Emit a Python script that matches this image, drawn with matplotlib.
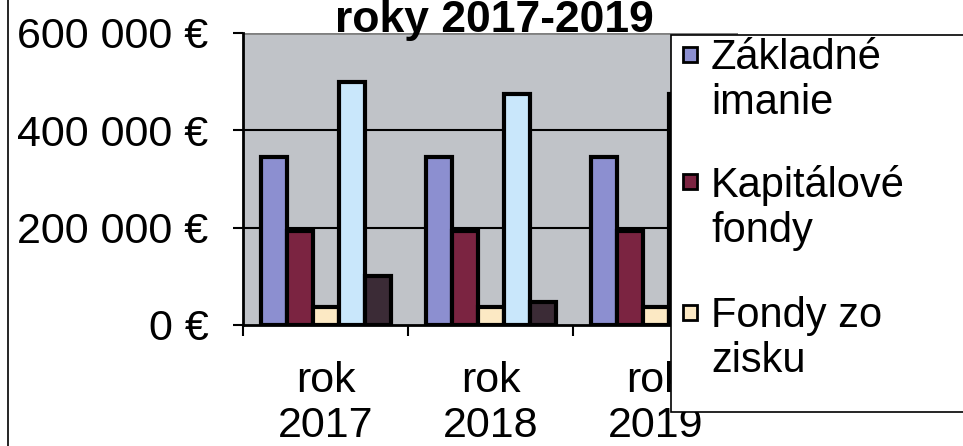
import matplotlib
matplotlib.use("Agg")
import matplotlib.pyplot as plt
import numpy as np
from matplotlib.patches import Rectangle
from matplotlib.lines import Line2D
from matplotlib.ticker import FixedLocator, FuncFormatter

plt.rcParams["font.family"] = ["Liberation Sans", "DejaVu Sans"]

years = ["rok\n2017", "rok\n2018", "rok\n2019"]
zakladne_imanie = [346000, 346000, 346000]
kapitalove_fondy = [193000, 193000, 193000]
fondy_zo_zisku = [37000, 37000, 37000]
series_4 = [500000, 475000, 475000]
series_5 = [100000, 48000, 48000]

legend_names = ["Základné\nimanie", "Kapitálové\nfondy", "Fondy zo\nzisku"]
colors = ["#8C8FD0", "#7B2441", "#FCE9C4", "#C9E7FB", "#3B2B36"]

fig = plt.figure(figsize=(9.63, 4.46), dpi=100)
ax = fig.add_axes([243 / 963, 1 - 325 / 446, (738 - 243) / 963, (325 - 33) / 446])
ax.set_facecolor("#C0C3C8")

x = np.arange(len(years))
w = 26 / 165
all_series = [zakladne_imanie, kapitalove_fondy, fondy_zo_zisku, series_4, series_5]
for i, vals in enumerate(all_series):
    ax.bar(x + (i - 2) * w, vals, width=w, color=colors[i],
           edgecolor="black", linewidth=3, zorder=3)

ax.set_xlim(-0.5, 2.5)
ax.set_ylim(0, 600000)

# gridlines
for yv in [200000, 400000]:
    ax.axhline(yv, color="black", linewidth=1.5, zorder=1)
ax.axhline(600000, color="#808080", linewidth=2, zorder=1)

ax.set_yticks([0, 200000, 400000, 600000])
ax.yaxis.set_major_formatter(FuncFormatter(
    lambda v, p: f"{int(v):,}".replace(",", " ") + " €"))
ax.tick_params(axis="y", length=7, width=1.5, pad=18, labelsize=31)

ax.set_xticks(x)
ax.set_xticklabels(years, fontsize=31, linespacing=1.15)
ax.xaxis.set_minor_locator(FixedLocator([-0.5, 0.5, 1.5, 2.5]))
ax.tick_params(axis="x", which="major", length=0, pad=26)
ax.tick_params(axis="x", which="minor", length=8, width=1.5)

for side in ["top", "right"]:
    ax.spines[side].set_visible(False)
ax.spines["left"].set_linewidth(2)
ax.spines["bottom"].set_linewidth(2)

# title (clipped at the top in the scan)
fig.text(494 / 963, 1 - 32 / 446, "roky 2017-2019", fontsize=32,
         fontweight="bold", ha="center", va="baseline")

# legend box, running off the right edge
fig.patches.append(Rectangle((671 / 963, 1 - 412 / 446), 0.4, (412 - 35) / 446,
                             transform=fig.transFigure, facecolor="white",
                             edgecolor="black", linewidth=1.2, zorder=5))
entry_tops = [38, 165, 296]
for name, col, top in zip(legend_names, colors[:3], entry_tops):
    fig.patches.append(Rectangle((683 / 963, 1 - (top + 24) / 446), 14 / 963, 15 / 446,
                                 transform=fig.transFigure, facecolor=col,
                                 edgecolor="black", linewidth=2, zorder=6))
    fig.text(711 / 963, 1 - top / 446, name, fontsize=30, va="top", ha="left",
             linespacing=1.15, zorder=7)

# left border of the scan
fig.lines.append(Line2D([8 / 963, 8 / 963], [0, 1], transform=fig.transFigure,
                        color="black", linewidth=1.2))

fig.savefig("out.png", dpi=100)
